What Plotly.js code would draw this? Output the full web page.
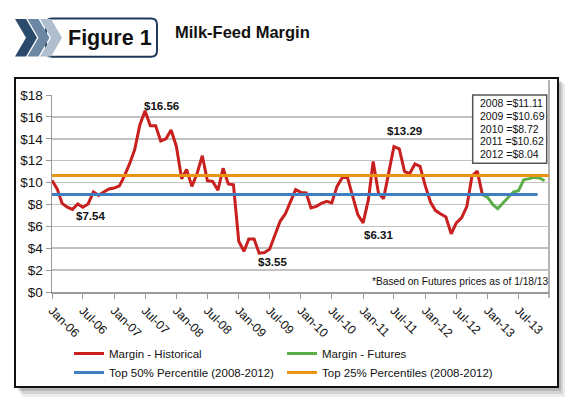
<!DOCTYPE html>
<html><head><meta charset="utf-8">
<script src="https://cdn.plot.ly/plotly-3.0.1.min.js"></script>
<style>html,body{margin:0;padding:0;background:#fff;}#chart{width:575px;height:414px;}</style>
</head><body><div id="chart"></div>
<script>
// ---------- data ----------
const histYears = [2006, 2007, 2008, 2009, 2010, 2011, 2012];
const hist2006 = [10.2, 9.4, 8.1, 7.75, 7.54, 8.05, 7.75, 8.05, 9.14, 8.83, 9.14, 9.42];
const hist2007 = [9.5, 9.7, 10.57, 11.7, 13.0, 15.28, 16.56, 15.2, 15.2, 13.8, 14.0, 14.8];
const hist2008 = [13.3, 10.35, 11.2, 9.65, 10.8, 12.45, 10.17, 10.1, 9.3, 11.3, 9.87, 9.8];
const hist2009 = [4.64, 3.72, 4.85, 4.85, 3.55, 3.6, 3.9, 5.1, 6.46, 7.13, 8.28, 9.35];
const hist2010 = [9.1, 9.05, 7.68, 7.83, 8.1, 8.28, 8.14, 9.65, 10.47, 10.47, 8.74, 7.07];
const hist2011 = [6.31, 8.44, 11.93, 9.05, 8.53, 11.02, 13.29, 13.09, 11.02, 10.81, 11.7, 11.48];
const hist2012 = [9.7, 8.2, 7.44, 7.13, 6.85, 5.31, 6.31, 6.77, 7.83, 10.6, 11.05, 8.9];
const futuresStartYear = 2012, futuresStartMonth = 11; // Dec-12
const futuresMargin = [8.9, 8.65, 7.98, 7.62, 8.14, 8.6, 9.14, 9.26, 10.26, 10.36, 10.47, 10.42, 10.17];
const top50Value = 8.9;
const top50Dates = ['2006-01-01', '2013-10-21'];
const top25Value = 10.65;
const top25Dates = ['2006-01-01', '2013-12-27'];
const avgYears = [2008, 2009, 2010, 2011, 2012];
const avgValues = [11.11, 10.69, 8.72, 10.62, 8.04];
const calloutDates = ['2007-07-01', '2006-05-01', '2009-05-01', '2011-01-01', '2011-07-01'];
const footnote = '*Based on Futures prices as of 1/18/13';
const seriesNames = ['Margin - Historical', 'Margin - Futures', 'Top 50% Percentile (2008-2012)', 'Top 25% Percentiles (2008-2012)'];

// ---------- build ----------
function monthDate(y, m) { const yy = y + Math.floor(m / 12); const mm = m % 12; return yy + '-' + String(mm + 1).padStart(2, '0') + '-01'; }
const histArrays = [hist2006, hist2007, hist2008, hist2009, hist2010, hist2011, hist2012];
const histX = [], histY = [];
histYears.forEach((y, i) => histArrays[i].forEach((v, m) => { histX.push(monthDate(y, m)); histY.push(v); }));
const futX = futuresMargin.map((v, i) => monthDate(futuresStartYear, futuresStartMonth + i));

const FONT = '"Liberation Sans", Arial, Helvetica, sans-serif';
const L = 52, T = 95, W = 497, H = 197;
const PX = x => (x - L) / W, PY = y => (T + H - y) / H;

const traces = [
  {x: histX, y: histY, name: seriesNames[0], mode: 'lines', line: {color: '#C8201E', width: 3}},
  {x: futX, y: futuresMargin, name: seriesNames[1], mode: 'lines', line: {color: '#5BAE47', width: 3}},
  {x: top50Dates, y: top50Dates.map(() => top50Value), name: seriesNames[2], mode: 'lines', line: {color: '#3F7EC1', width: 3}},
  {x: top25Dates, y: top25Dates.map(() => top25Value), name: seriesNames[3], mode: 'lines', line: {color: '#EA9413', width: 3}}
];

const calloutOffsets = [[16, 5], [18, -7], [13, -9], [15, -12], [11, 16]];
const annotations = calloutDates.map((d, i) => {
  const idx = histX.indexOf(d);
  return {x: d, y: histY[idx], xref: 'x', yref: 'y', text: '<b>$' + histY[idx].toFixed(2) + '</b>', showarrow: false,
    xshift: calloutOffsets[i][0], yshift: calloutOffsets[i][1], font: {family: FONT, size: 11.5, color: '#111'}};
});
avgYears.forEach((yr, i) => annotations.push({xref: 'paper', yref: 'paper', x: PX(478), y: PY(103.3 + i * 12.7), xanchor: 'left', yanchor: 'middle',
  text: yr + ' =$' + avgValues[i].toFixed(2), showarrow: false, font: {family: FONT, size: 10.5, color: '#111'}}));
annotations.push({xref: 'paper', yref: 'paper', x: PX(370), y: PY(281.7), xanchor: 'left', yanchor: 'middle', text: footnote, showarrow: false,
  font: {family: FONT, size: 10.2, color: '#111'}});
annotations.push({xref: 'paper', yref: 'paper', x: PX(66), y: PY(38), xanchor: 'left', yanchor: 'middle', text: '<b>Figure 1</b>', showarrow: false,
  font: {family: FONT, size: 21.5, color: '#111'}});

function chevron(x0, color) {
  const top = 19, bot = 56.5, mid = 37.7, w = 11, d = 11;
  const p = [[x0, top], [x0 + w, top], [x0 + w + d, mid], [x0 + w, bot], [x0, bot], [x0 + d, mid]];
  return {type: 'path', xref: 'paper', yref: 'paper', layer: 'above', line: {width: 0}, fillcolor: color,
    path: 'M' + p.map(q => PX(q[0]) + ',' + PY(q[1])).join('L') + 'Z'};
}
function roundRect(x0, y0, x1, y1, r, extra) {
  const P = (x, y) => PX(x) + ',' + PY(y);
  const path = 'M' + P(x0 + r, y0) + 'L' + P(x1 - r, y0) + 'Q' + P(x1, y0) + ' ' + P(x1, y0 + r) +
    'L' + P(x1, y1 - r) + 'Q' + P(x1, y1) + ' ' + P(x1 - r, y1) + 'L' + P(x0 + r, y1) + 'Q' + P(x0, y1) + ' ' + P(x0, y1 - r) +
    'L' + P(x0, y0 + r) + 'Q' + P(x0, y0) + ' ' + P(x0 + r, y0) + 'Z';
  return Object.assign({type: 'path', xref: 'paper', yref: 'paper', path: path}, extra);
}
function rect(x0, y0, x1, y1, extra) {
  return Object.assign({type: 'rect', xref: 'paper', yref: 'paper', x0: PX(x0), x1: PX(x1), y0: PY(y1), y1: PY(y0)}, extra);
}
const shapes = [
  rect(22, 84, 565, 397, {layer: 'below', line: {width: 0}, fillcolor: 'rgba(0,0,0,0.07)'}),
  rect(20, 82, 563, 394, {layer: 'below', line: {width: 0}, fillcolor: 'rgba(0,0,0,0.10)'}),
  rect(18, 81, 561, 391, {layer: 'below', line: {width: 0}, fillcolor: 'rgba(0,0,0,0.14)'}),
  rect(15, 78, 558, 387, {layer: 'below', line: {color: '#111', width: 2}, fillcolor: '#ffffff'}),
  {type: 'line', xref: 'paper', yref: 'paper', x0: 1, x1: 1, y0: PY(298), y1: PY(80), layer: 'below', line: {color: '#9a9a9a', width: 1.5}},
  rect(472.7, 95, 546.7, 163.3, {layer: 'above', line: {color: '#555', width: 1.5}, fillcolor: '#ffffff'}),
  roundRect(46, 18.5, 157, 56.7, 6, {layer: 'above', line: {color: '#1E3A5A', width: 2}, fillcolor: '#ffffff'}),
  chevron(15, '#2B4B6D'), chevron(27.5, '#6C87A3'), chevron(40, '#B0BFCE')
];

const layout = {
  width: 575, height: 414,
  margin: {l: L, r: 575 - L - W, t: T, b: 414 - T - H, autoexpand: false},
  paper_bgcolor: '#ffffff', plot_bgcolor: 'rgba(0,0,0,0)',
  title: {text: '<b>Milk-Feed Margin</b>', font: {family: FONT, size: 16.5, color: '#111'}, xref: 'paper', x: PX(175), xanchor: 'left',
    yref: 'container', y: 1 - 32 / 414, yanchor: 'middle'},
  xaxis: {type: 'date', range: ['2006-01-01', '2013-12-27'], tick0: '2006-01-01', dtick: 'M6', tickformat: '%b-%y', tickangle: 45,
    ticks: 'outside', ticklen: 5, tickcolor: '#9a9a9a', showgrid: false, showline: true, linecolor: '#9a9a9a', linewidth: 1.5,
    tickfont: {family: FONT, size: 12.3, color: '#111'}, zeroline: false, fixedrange: true},
  yaxis: {range: [0, 18], dtick: 2, tickprefix: '$', ticks: 'outside', ticklen: 5, tickcolor: '#9a9a9a', showline: true,
    linecolor: '#9a9a9a', linewidth: 1.5, showgrid: true, gridcolor: '#C2C2C2', gridwidth: 1.5, zeroline: false,
    tickfont: {family: FONT, size: 13.5, color: '#111'}, fixedrange: true},
  showlegend: true,
  legend: {orientation: 'h', x: PX(69), xanchor: 'left', y: PY(339), yanchor: 'top', entrywidth: 168, entrywidthmode: 'pixels',
    font: {family: FONT, size: 11.5, color: '#111'}, bgcolor: 'rgba(0,0,0,0)', tracegroupgap: 0, traceorder: 'normal'},
  annotations: annotations,
  shapes: shapes
};
Plotly.newPlot('chart', traces, layout, {displayModeBar: false, staticPlot: true});
</script></body></html>
